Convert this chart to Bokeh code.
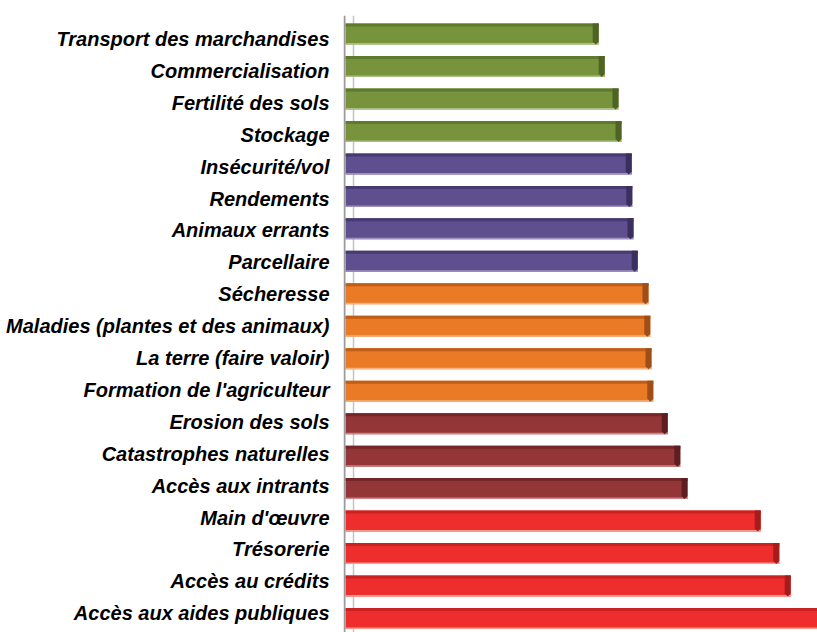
from bokeh.plotting import figure
from bokeh.layouts import row
from bokeh.models import Range1d, ColumnDataSource, Span
from bokeh.core.properties import value
from bokeh.embed import file_html
from bokeh.resources import INLINE

# ---- data (top to bottom as displayed) ----
labels = ["Transport des marchandises", "Commercialisation", "Fertilité des sols",
          "Stockage", "Insécurité/vol", "Rendements", "Animaux errants", "Parcellaire",
          "Sécheresse", "Maladies (plantes et des animaux)", "La terre (faire valoir)",
          "Formation de l'agriculteur", "Erosion des sols", "Catastrophes naturelles",
          "Accès aux intrants", "Main d'œuvre", "Trésorerie", "Accès au crédits",
          "Accès aux aides publiques"]
values = [42.2, 43.2, 45.5, 46.0, 47.7, 47.8, 48.0, 48.7, 50.5, 50.8, 51.0, 51.3,
          53.7, 55.8, 57.0, 69.2, 72.3, 74.2, 80.0]
groups = ["vert"] * 4 + ["violet"] * 4 + ["orange"] * 4 + ["bordeaux"] * 3 + ["rouge"] * 4

# ---- styles ----
main_col = {"vert": "#77933C", "violet": "#5F4F8E", "orange": "#EA7A25",
            "bordeaux": "#943638", "rouge": "#EE2D2D"}
top_col = {"vert": "#5F7A2D", "violet": "#463A70", "orange": "#BF5E18",
           "bordeaux": "#742628", "rouge": "#C92222"}
bot_col = {"vert": "#A9BF86", "violet": "#9D92BF", "orange": "#F5B27E",
           "bordeaux": "#C98587", "rouge": "#F59C8E"}
face_col = {"vert": "#4E6425", "violet": "#3A2F5E", "orange": "#9E4E16",
            "bordeaux": "#5E1E20", "rouge": "#A61B1B"}

W, H = 817, 632
LW = 343              # width of label panel
TOP = 15
FW, FH = W - LW, H - TOP
PXX = 6.0             # px per x unit
PXY = 32.47           # px per row
x_start = -2 / PXX
x_end = x_start + FW / PXX
y_start = -(632 - 618) / PXY
y_end = y_start + FH / PXY
yr = Range1d(y_start, y_end)

n = len(labels)
ypos = [n - 1 - i for i in range(n)]
# label rows are spaced a little tighter than the bars in the original
lab_y = [(n - 1) - (5.0 + 31.9 * (n - 1 - y)) / PXY for y in ypos]
bh = 21 / PXY
strip = 3 / PXY
bstrip = 1.5 / PXY
fw_ = 6 / PXX
cut = 3 / PXX

src = ColumnDataSource(dict(
    y=ypos, v=values, label=labels, ly=lab_y,
    ytop=[y + bh / 2 - strip / 2 for y in ypos],
    ybot=[y - bh / 2 + bstrip / 2 for y in ypos],
    main=[main_col[g] for g in groups],
    topc=[top_col[g] for g in groups],
    botc=[bot_col[g] for g in groups],
))

face_xs, face_ys = [], []
for y, v in zip(ypos, values):
    t, b = y + bh / 2, y - bh / 2
    face_xs.append([v - fw_, v, v, v - fw_ + cut, v - fw_])
    face_ys.append([t, t, b + 3 / PXY, b, b + 3 / PXY])
face_src = ColumnDataSource(dict(xs=face_xs, ys=face_ys,
                                 c=[face_col[g] for g in groups]))


def bare(fig):
    fig.outline_line_color = None
    fig.xgrid.visible = False
    fig.ygrid.visible = False
    fig.xaxis.visible = False
    fig.yaxis.visible = False


# label panel
pl = figure(width=LW, height=H, output_backend="svg", toolbar_location=None,
            x_range=Range1d(0, LW), y_range=yr,
            min_border_left=0, min_border_right=0, min_border_top=TOP,
            min_border_bottom=0)
bare(pl)
pl.text(x=329, y="ly", text="label", source=src, text_align="right",
        text_baseline="middle", text_font=value("Liberation Sans"),
        text_font_style="bold italic", text_font_size="20px", text_color="#000000")

# bar panel
p = figure(width=FW, height=H, output_backend="svg", toolbar_location=None,
           x_range=Range1d(x_start, x_end), y_range=yr,
           min_border_left=0, min_border_right=0, min_border_top=TOP,
           min_border_bottom=0)
bare(p)
p.add_layout(Span(location=x_start + 1 / PXX, dimension="height",
                  line_color="#9a9a9a", line_width=2))
p.add_layout(Span(location=x_start + 10 / PXX, dimension="height",
                  line_color="#c4c4c4", line_width=1.5, level="underlay"))

p.hbar(y="y", left=0, right="v", height=bh, fill_color="main", line_color=None, source=src)
p.hbar(y="ytop", left=0, right="v", height=strip, fill_color="topc", line_color=None, source=src)
p.hbar(y="ybot", left=0, right="v", height=bstrip, fill_color="botc", line_color=None, source=src)
p.patches(xs="xs", ys="ys", fill_color="c", line_color=None, source=face_src)

layout = row(pl, p, spacing=0)
open("out.html", "w").write(file_html(layout, INLINE))
